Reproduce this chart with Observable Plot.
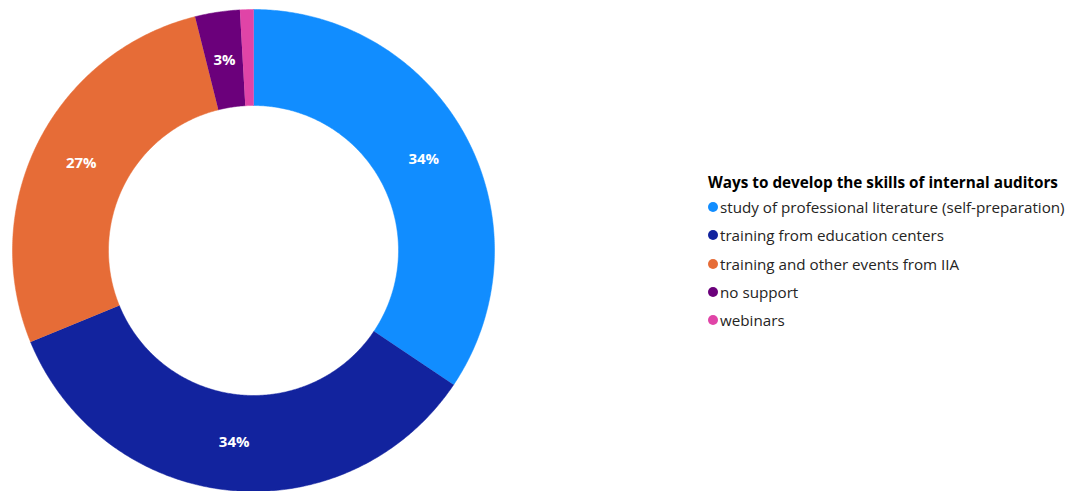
<!DOCTYPE html>
<html>
<head>
<meta charset="utf-8">
<script src="https://cdn.jsdelivr.net/npm/d3@7"></script>
<script src="https://cdn.jsdelivr.net/npm/@observablehq/plot@0.6"></script>
<style>
  html, body { margin: 0; padding: 0; background: #fff; }
  #wrap { position: relative; width: 1079px; height: 491px; overflow: hidden; font-family: "Open Sans", "Noto Sans", sans-serif; }
  #legend { position: absolute; left: 708px; top: 171px; color: #252423; }
  #legend .title { font-weight: 700; font-size: 15.3px; color: #000; height: 22px; line-height: 22px; white-space: nowrap; }
  #legend .item { display: flex; align-items: center; height: 28.3px; font-size: 15.2px; white-space: nowrap; color: #252423; }
  #legend .dot { width: 10px; height: 10px; border-radius: 50%; margin-right: 2px; flex: none; }
</style>
</head>
<body>
<div id="wrap"></div>
<script>
const legendTitle = "Ways to develop the skills of internal auditors";
const categories = [
  "study of professional literature (self-preparation)",
  "training from education centers",
  "training and other events from IIA",
  "no support",
  "webinars"
];
const shares = [34.4, 34.4, 27.3, 3.0, 0.9];
const colors = ["#118DFF", "#12239E", "#E66C37", "#6B007B", "#E044A7"];
const showLabel = [true, true, true, true, false];

const innerR = 145 / 241;
const total = d3.sum(shares);
const slices = [];
let acc = 0;
categories.forEach((name, i) => {
  const a0 = acc / total * 2 * Math.PI;
  acc += shares[i];
  const a1 = acc / total * 2 * Math.PI;
  slices.push({name, value: shares[i], a0, a1, i});
});

const pts = [];
for (const s of slices) {
  const n = Math.max(2, Math.ceil((s.a1 - s.a0) / (Math.PI / 360)));
  for (let k = 0; k <= n; k++) {
    const a = s.a0 + (s.a1 - s.a0) * k / n;
    pts.push({name: s.name, x: Math.sin(a), y: Math.cos(a)});
  }
  for (let k = n; k >= 0; k--) {
    const a = s.a0 + (s.a1 - s.a0) * k / n;
    pts.push({name: s.name, x: innerR * Math.sin(a), y: innerR * Math.cos(a)});
  }
}

const midR = (1 + innerR) / 2;
const labels = slices.filter(s => showLabel[s.i]).map(s => {
  const m = (s.a0 + s.a1) / 2;
  return {x: midR * Math.sin(m), y: midR * Math.cos(m), text: Math.round(s.value) + "%"};
});

const cx = 253, cy = 250, R = 241;
const chart = Plot.plot({
  width: 1079,
  height: 491,
  margin: 0,
  x: {domain: [-1, 1], range: [cx - R, cx + R], axis: null},
  y: {domain: [-1, 1], range: [cy + R, cy - R], axis: null},
  color: {domain: categories, range: colors, legend: false},
  marks: [
    Plot.line(pts, {x: "x", y: "y", z: "name", fill: "name", stroke: "name", strokeWidth: 0.5, curve: "linear"}),
    Plot.text(labels, {x: "x", y: "y", text: "text", fill: "white", fontWeight: "bold", fontSize: 15, fontFamily: "Open Sans, sans-serif"})
  ]
});

const wrap = document.getElementById("wrap");
wrap.appendChild(chart);
const lg = document.createElement("div");
lg.id = "legend";
const t = document.createElement("div");
t.className = "title";
t.textContent = legendTitle;
lg.appendChild(t);
categories.forEach((c, i) => {
  const it = document.createElement("div");
  it.className = "item";
  const d = document.createElement("span");
  d.className = "dot";
  d.style.background = colors[i];
  const s = document.createElement("span");
  s.textContent = c;
  it.appendChild(d); it.appendChild(s);
  lg.appendChild(it);
});
wrap.appendChild(lg);
</script>
</body>
</html>
